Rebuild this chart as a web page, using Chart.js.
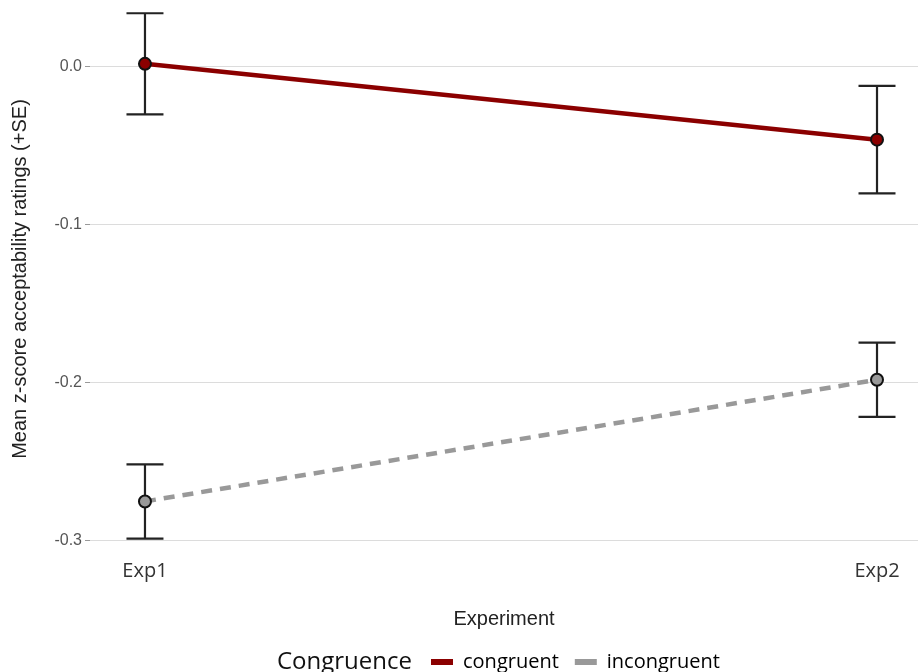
<!DOCTYPE html>
<html>
<head>
<meta charset="utf-8">
<script src="https://cdn.jsdelivr.net/npm/chart.js@4/dist/chart.umd.min.js"></script>
<style>
    html, body { margin: 0; padding: 0; background: #fff; }
    #wrap { width: 918px; height: 672px; position: relative; }
</style>
</head>
<body>
<div id="wrap"><canvas id="chart"></canvas></div>
<script>
// Data
const categories = ["Exp1", "Exp2"];
const congruentMean = [0.002, -0.046];
const congruentSE = [0.032, 0.034];
const incongruentMean = [-0.275, -0.198];
const incongruentSE = [0.0235, 0.0235];
const yTicks = [0.0, -0.1, -0.2, -0.3];

const toPoints = arr => arr.map((v, i) => ({ x: i + 1, y: v }));

// Error bars (mean +/- SE), drawn under the lines
const errorBars = {
    id: "errorBars",
    beforeDatasetsDraw(chart) {
        const { ctx, scales: { x, y } } = chart;
        ctx.save();
        ctx.strokeStyle = "#222";
        ctx.lineWidth = 2.2;
        chart.data.datasets.forEach(ds => {
            ds.se.forEach((se, i) => {
                const px = x.getPixelForValue(i + 1);
                const top = y.getPixelForValue(ds.means[i] + se);
                const bot = y.getPixelForValue(ds.means[i] - se);
                ctx.beginPath();
                ctx.moveTo(px, top); ctx.lineTo(px, bot);
                ctx.moveTo(px - 18.5, top); ctx.lineTo(px + 18.5, top);
                ctx.moveTo(px - 18.5, bot); ctx.lineTo(px + 18.5, bot);
                ctx.stroke();
            });
        });
        ctx.restore();
    }
};

// Move legend right/down and add the "Congruence" title beside it
const legendTitle = {
    id: "legendTitle",
    afterLayout(chart) {
        const lg = chart.legend;
        lg.left = 415;
        lg.top += 10;
        lg.bottom += 10;
    },
    afterDraw(chart) {
        const lg = chart.legend;
        const box = lg.legendHitBoxes[0];
        if (!box) return;
        const { ctx } = chart;
        ctx.save();
        ctx.font = "24px 'Open Sans'";
        ctx.fillStyle = "#111";
        ctx.textBaseline = "middle";
        ctx.textAlign = "left";
        ctx.fillText("Congruence", 277, box.top + box.height / 2);
        ctx.restore();
    }
};

const ctx = document.getElementById("chart").getContext("2d");
const chart = new Chart(ctx, {
    type: "line",
    data: {
        datasets: [
            {
                label: "congruent",
                data: toPoints(congruentMean),
                means: congruentMean,
                se: congruentSE,
                borderColor: "#8b0000",
                backgroundColor: "#8b0000",
                borderWidth: 4.5,
                pointRadius: 6,
                pointBorderWidth: 2,
                pointBorderColor: "#111",
                pointBackgroundColor: "#8b0000"
            },
            {
                label: "incongruent",
                data: toPoints(incongruentMean),
                means: incongruentMean,
                se: incongruentSE,
                borderColor: "#999",
                backgroundColor: "#999",
                borderWidth: 4.5,
                borderDash: [11, 8],
                pointRadius: 6,
                pointBorderWidth: 2,
                pointBorderColor: "#111",
                pointBackgroundColor: "#999"
            }
        ]
    },
    options: {
        responsive: true,
        maintainAspectRatio: false,
        animation: false,
        layout: { padding: 0, autoPadding: false },
        plugins: {
            tooltip: { enabled: false },
            legend: {
                position: "bottom",
                align: "start",
                labels: {
                    font: { family: "'Open Sans'", size: 20 },
                    color: "#111",
                    boxWidth: 22,
                    boxHeight: 6,
                    padding: 16,
                    generateLabels: c => c.data.datasets.map((ds, i) => ({
                        text: ds.label,
                        fillStyle: ds.borderColor,
                        strokeStyle: ds.borderColor,
                        lineWidth: 0,
                        lineDash: [],
                        datasetIndex: i
                    }))
                }
            }
        },
        scales: {
            x: {
                type: "linear",
                min: 0.9249,
                max: 2.056,
                afterBuildTicks: s => { s.ticks = categories.map((c, i) => ({ value: i + 1 })); },
                afterFit: s => { s.height = 68; s.paddingLeft = 0; s.paddingRight = 0; },
                grid: { display: false },
                border: { display: false },
                ticks: {
                    callback: v => categories[v - 1],
                    font: { family: "'Open Sans'", size: 20 },
                    color: "#333",
                    padding: -7,
                    maxRotation: 0
                },
                title: {
                    display: true,
                    text: "Experiment",
                    font: { family: "'Liberation Sans'", size: 20 },
                    color: "#222",
                    padding: { top: 0, bottom: -5 }
                }
            },
            y: {
                min: -0.3108,
                max: 0.0424,
                afterBuildTicks: s => { s.ticks = yTicks.map(v => ({ value: v })); },
                afterFit: s => { s.width = 90; s.paddingTop = 0; s.paddingBottom = 0; },
                grid: { color: "#dcdcdc", lineWidth: 1, tickLength: 5, tickColor: "#999" },
                border: { display: false },
                ticks: {
                    callback: v => v.toFixed(1),
                    font: { family: "'Liberation Sans'", size: 16 },
                    color: "#555",
                    padding: 3
                },
                title: {
                    display: true,
                    text: "Mean z-score acceptability ratings (+SE)",
                    font: { family: "'Liberation Sans'", size: 20 },
                    color: "#222",
                    padding: { top: 8, bottom: 0 }
                }
            }
        }
    },
    plugins: [errorBars, legendTitle]
});
</script>
</body>
</html>
